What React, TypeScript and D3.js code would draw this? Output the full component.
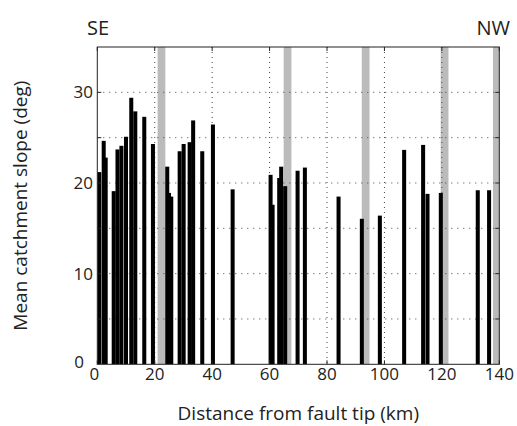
import React from "react";
import * as d3 from "d3";

// Distance from fault tip (km) of each catchment and its mean slope (deg)
const distanceKm = [0.7, 2.92, 2.23, 5.71, 7.03, 8.4, 9.99, 11.83, 13.23, 16.36, 19.38, 25.76, 24.96, 24.36, 28.68, 30.07, 32.16, 33.38, 36.55, 40.27, 47.13, 61.05, 65.43, 63.35, 60.35, 64.04, 69.75, 72.29, 84.02, 92.13, 98.4, 106.86, 113.47, 115.0, 119.63, 132.5, 136.44];
const slopeDeg = [21.2, 22.8, 24.65, 19.1, 23.7, 24.1, 25.1, 29.4, 27.9, 27.3, 24.3, 18.5, 18.9, 21.8, 23.5, 24.3, 24.5, 26.9, 23.5, 26.45, 19.3, 17.6, 19.65, 20.55, 20.9, 21.8, 21.35, 21.7, 18.5, 16.05, 16.4, 23.65, 24.2, 18.8, 18.9, 19.2, 19.2];
// Shaded zones (start km)
const zoneStartKm = [21.0, 64.9, 92.1, 119.6, 137.8];
const zoneWidthKm = 2.7;
const barWidthKm = 1.4;

const xTicks = [0, 20, 40, 60, 80, 100, 120, 140];
const yGrid = [5, 10, 15, 20, 25, 30];
const yTickLabels = [10, 20, 30];

const W = 517, H = 426;
const left = 97.3, right = 499.3, top = 47, bottom = 364.3;
const FONT = "'Open Sans', 'DejaVu Sans', sans-serif";

export default function App() {
  const x = d3.scaleLinear().domain([0, 140]).range([left, right]);
  const y = d3.scaleLinear().domain([0, 35]).range([bottom, top]);
  const bars = distanceKm.map((d, i) => ({ d, v: slopeDeg[i] })).sort((a, b) => a.v - b.v);
  const bw = x(barWidthKm) - x(0);
  return (
    <svg width={W} height={H} style={{ position: "absolute", left: 0, top: 0, background: "#fff" }}>
      <defs>
        <clipPath id="plot">
          <rect x={left} y={top} width={right - left} height={bottom - top} />
        </clipPath>
      </defs>
      <rect x={0} y={0} width={W} height={H} fill="#fff" />
      <g clipPath="url(#plot)">
        {zoneStartKm.map((s, i) => (
          <rect key={"z" + i} x={x(s)} y={top} width={x(s + zoneWidthKm) - x(s)} height={bottom - top} fill="#bbbbbb" />
        ))}
        {yGrid.map((g) => (
          <line key={"gy" + g} x1={left} x2={right} y1={y(g)} y2={y(g)} stroke="#444" strokeWidth={1} strokeDasharray="1,5" />
        ))}
        {xTicks.slice(1, -1).map((t) => (
          <line key={"gx" + t} x1={x(t)} x2={x(t)} y1={top} y2={bottom} stroke="#444" strokeWidth={1} strokeDasharray="1,4" />
        ))}
        {bars.map((b, i) => (
          <rect key={"b" + i} x={x(b.d) - bw / 2} y={y(b.v)} width={bw} height={y(0) - y(b.v)} fill="#000" />
        ))}
      </g>
      <rect x={left} y={top} width={right - left} height={bottom - top} fill="none" stroke="#222" strokeWidth={1} />
      {yGrid.map((g) => (
        <g key={"ty" + g}>
          <line x1={left} x2={left + 4} y1={y(g)} y2={y(g)} stroke="#222" />
          <line x1={right} x2={right - 4} y1={y(g)} y2={y(g)} stroke="#222" />
        </g>
      ))}
      {xTicks.map((t) => (
        <g key={"tx" + t}>
          <line x1={x(t)} x2={x(t)} y1={bottom} y2={bottom - 4} stroke="#222" />
          <line x1={x(t)} x2={x(t)} y1={top} y2={top + 4} stroke="#222" />
        </g>
      ))}
      <g fontFamily={FONT} fontSize={17} fill="#222">
        {xTicks.map((t) => (
          <text key={"lx" + t} x={x(t) - (t === 0 ? 3 : 0)} y={380} textAnchor="middle">{t}</text>
        ))}
        {yTickLabels.map((t) => (
          <text key={"ly" + t} x={93} y={y(t) + 6} textAnchor="end">{t}</text>
        ))}
        <text x={84} y={368} textAnchor="end">0</text>
      </g>
      <text x={(left + right) / 2} y={420} textAnchor="middle" fontFamily={FONT} fontSize={19} fill="#222">
        Distance from fault tip (km)
      </text>
      <text transform={`translate(27,${(top + bottom) / 2}) rotate(-90)`} textAnchor="middle" fontFamily={FONT} fontSize={19} fill="#222">
        Mean catchment slope (deg)
      </text>
      <text x={87} y={35} fontFamily={FONT} fontSize={20} fill="#222">SE</text>
      <text x={510} y={35} textAnchor="end" fontFamily={FONT} fontSize={20} fill="#222">NW</text>
    </svg>
  );
}
